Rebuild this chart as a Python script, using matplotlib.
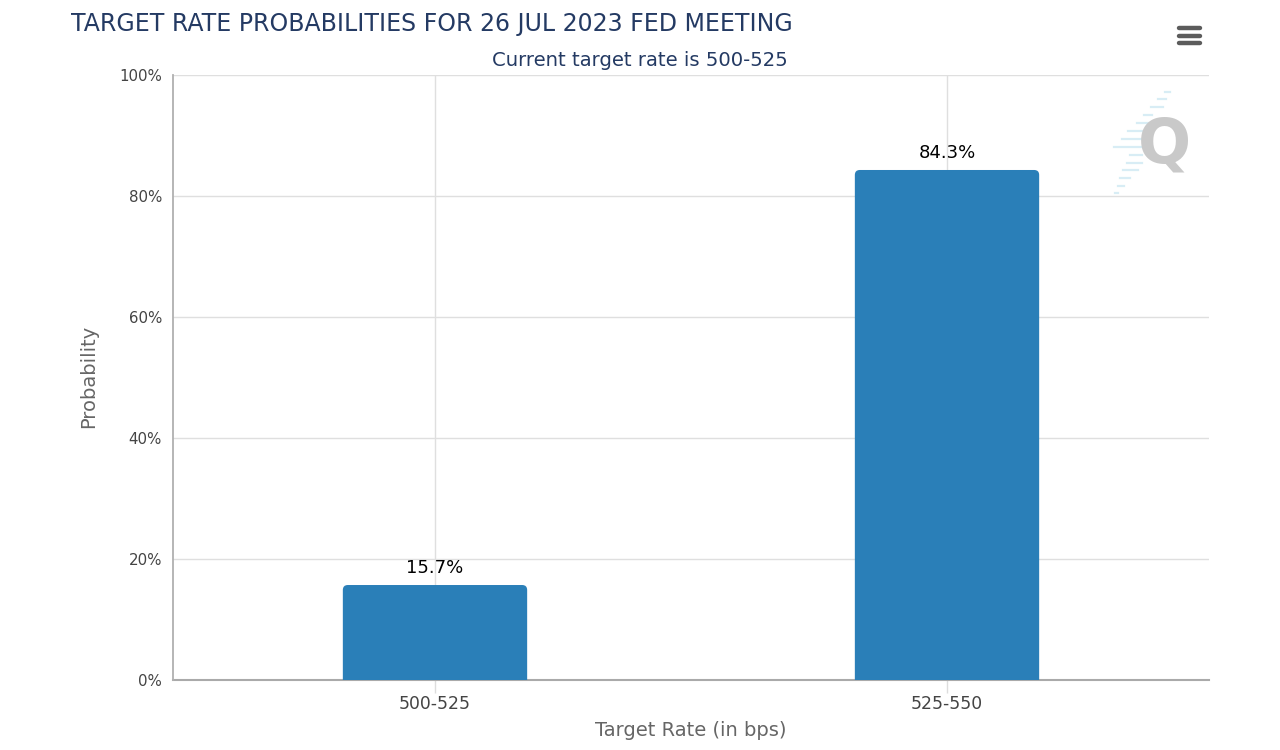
#!/usr/bin/env python
import matplotlib
matplotlib.use('Agg')
import matplotlib.pyplot as plt
from matplotlib.path import Path
from matplotlib.patches import PathPatch
from matplotlib.lines import Line2D

plt.rcParams['font.family'] = ['DejaVu Sans']

# values
rates = ["500-525", "525-550"]
probs = [15.7, 84.3]
prob_labels = ["15.7%", "84.3%"]
yticks = [0, 20, 40, 60, 80, 100]

W, H = 1280, 750
navy = "#243a63"
bar_col = "#2a7fb8"

fig = plt.figure(figsize=(12.8, 7.5), dpi=100)
ax = fig.add_axes([173 / W, 1 - 680 / H, (1209 - 173) / W, (680 - 75) / H])

xpos = list(range(len(rates)))
bars = ax.bar(xpos, probs, width=0.36, color=bar_col, visible=False)
ax.set_xlim(-0.5117, 1.5117)
ax.set_ylim(0, 100)

# top corners of the bars are rounded a bit
rx = 5 / 512
ry = 5 / 6.05
for i, b in enumerate(bars):
    x0, x1, top = b.get_x(), b.get_x() + b.get_width(), b.get_height()
    verts = [(x0, 0), (x0, top - ry), (x0, top), (x0 + rx, top),
             (x1 - rx, top), (x1, top), (x1, top - ry), (x1, 0), (x0, 0)]
    codes = [Path.MOVETO, Path.LINETO, Path.CURVE3, Path.CURVE3,
             Path.LINETO, Path.CURVE3, Path.CURVE3, Path.LINETO, Path.CLOSEPOLY]
    ax.add_patch(PathPatch(Path(verts, codes), facecolor=bar_col, edgecolor="none", zorder=3))
    ax.annotate(prob_labels[i], (b.get_x() + b.get_width() / 2, top),
                xytext=(0, 6), textcoords="offset points", ha="center", va="bottom",
                fontsize=13, color="black", zorder=4)

ax.set_xticks(xpos)
ax.set_xticklabels(rates, fontsize=12.4, color="#444444")
ax.set_yticks(yticks)
ax.set_yticklabels([f"{v}%" for v in yticks], fontsize=10.8, color="#444444")
ax.tick_params(axis="x", length=9.5, width=1, color="#dddddd", pad=1.5)
ax.tick_params(axis="y", length=0, pad=8)
ax.grid(True, color="#dfdfdf", linewidth=1)
ax.set_axisbelow(True)

for side in ["top", "right"]:
    ax.spines[side].set_visible(False)
ax.spines["left"].set_color("#b0b0b0")
ax.spines["bottom"].set_color("#aaaaaa")
ax.spines["left"].set_linewidth(1.3)
ax.spines["bottom"].set_linewidth(1.5)
ax.spines["left"].set_zorder(5)

fig.text(691 / W, 1 - 731 / H, "Target Rate (in bps)", fontsize=14, color="#666666",
         ha="center", va="center")
fig.text(89 / W, 1 - 376 / H, "Probability", fontsize=14, color="#666666",
         ha="center", va="center", rotation=90)

fig.text(71 / W, 1 - 24 / H, "TARGET RATE PROBABILITIES FOR 26 JUL 2023 FED MEETING",
         fontsize=17.02, color=navy, ha="left", va="center")
fig.text(639.5 / W, 1 - 60 / H, "Current target rate is 500-525",
         fontsize=14.1, color=navy, ha="center", va="center")

# menu icon
for y in [28, 36, 43]:
    fig.add_artist(Line2D([1179 / W, 1200 / W], [1 - y / H, 1 - y / H], color="#5c5c5c",
                          linewidth=3.2, solid_capstyle="round"))

# watermark
streaks = [(1165, 1170, 92), (1158, 1166, 99), (1151, 1163, 107), (1144, 1152, 115),
           (1137, 1148, 123), (1128, 1143, 131), (1122, 1142, 139), (1114, 1141, 147),
           (1130, 1142, 155), (1127, 1142, 163), (1123, 1138, 170), (1120, 1130, 178),
           (1118, 1124, 186), (1115, 1118, 193)]
for x0, x1, y in streaks:
    fig.add_artist(Line2D([x0 / W, x1 / W], [1 - y / H, 1 - y / H], color="#d8edf5", linewidth=1.6))
fig.text(1164 / W, 1 - 145 / H, "Q", fontsize=45, fontweight="bold", color="#c9c9c9",
         ha="center", va="center", zorder=6)

fig.savefig("out.png", dpi=100)
